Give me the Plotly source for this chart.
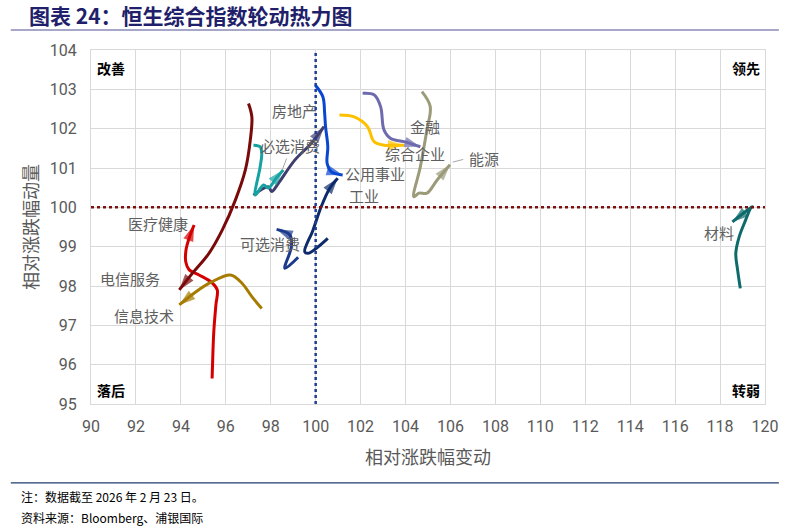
import plotly.graph_objects as go

# ---------------- data ----------------
utilities_x = [99.98, 100.32, 100.40, 100.44, 100.54, 100.51, 100.69, 101.20]
utilities_y = [103.11, 102.81, 102.39, 102.05, 101.54, 101.12, 100.91, 100.82]

industrials_x = [100.54, 100.03, 99.66, 99.51, 99.88, 100.25, 100.62, 100.98]
industrials_y = [99.21, 98.96, 98.83, 98.87, 99.42, 100.02, 100.48, 100.74]

consdisc_x = [99.22, 98.63, 98.92, 98.85, 98.26]
consdisc_y = [98.73, 98.45, 99.00, 99.30, 99.44]

property_x = [97.23, 97.90, 98.04, 98.34, 99.07, 99.81, 100.37]
property_y = [100.31, 100.52, 100.40, 100.61, 101.20, 101.63, 102.05]

staples_x = [97.23, 97.53, 97.60, 97.53, 97.31, 97.68, 97.90, 98.25, 98.56]
staples_y = [101.58, 101.54, 101.37, 101.03, 100.31, 100.57, 100.49, 100.75, 100.95]

finance_x = [102.09, 102.60, 102.89, 103.04, 103.34, 103.93, 104.66]
finance_y = [102.90, 102.86, 102.56, 101.97, 101.75, 101.67, 101.54]

conglom_x = [101.06, 101.72, 102.31, 102.60, 103.04, 103.49, 103.93]
conglom_y = [102.35, 102.30, 102.05, 101.67, 101.58, 101.58, 101.58]

energy_x = [104.73, 105.10, 104.95, 104.66, 104.37, 104.60, 104.95, 105.40, 105.98]
energy_y = [102.94, 102.56, 101.97, 101.03, 100.27, 100.36, 100.36, 100.69, 101.08]

materials_x = [118.90, 118.78, 118.70, 118.85, 119.14, 119.36, 119.43, 118.55]
materials_y = [97.94, 98.41, 98.83, 99.25, 99.68, 99.98, 100.02, 99.63]

health_x = [95.39, 95.43, 95.47, 95.56, 95.62, 95.39, 94.81, 94.37, 94.22, 94.23, 94.37, 94.59]
health_y = [95.65, 96.37, 96.88, 97.52, 97.90, 98.08, 98.28, 98.41, 98.61, 98.92, 99.22, 99.55]

telecom_x = [97.01, 97.16, 97.09, 96.87, 96.43, 95.84, 95.25, 94.51, 93.93]
telecom_y = [102.64, 102.30, 101.71, 100.95, 100.19, 99.42, 98.83, 98.32, 97.90]

infotech_x = [97.60, 97.16, 96.72, 96.21, 95.39, 94.66, 93.93]
infotech_y = [97.43, 97.73, 98.07, 98.28, 98.11, 97.85, 97.52]

sector_names = ["公用事业", "工业", "可选消费", "房地产", "必选消费", "金融",
                "综合企业", "能源", "材料", "医疗健康", "电信服务", "信息技术"]

x_ticks = list(range(90, 121, 2))
y_ticks = list(range(95, 105, 1))
ref_x = 100
ref_y = 100

# ---------------- styles ----------------
series = [
    (utilities_x, utilities_y, "#0A47D1"),
    (industrials_x, industrials_y, "#0D2B6B"),
    (consdisc_x, consdisc_y, "#1B3A8C"),
    (property_x, property_y, "#403E6E"),
    (staples_x, staples_y, "#17A2A2"),
    (finance_x, finance_y, "#6D6BAE"),
    (conglom_x, conglom_y, "#FFC000"),
    (energy_x, energy_y, "#9B9B7A"),
    (materials_x, materials_y, "#0F6B6B"),
    (health_x, health_y, "#D40000"),
    (telecom_x, telecom_y, "#7A0A0A"),
    (infotech_x, infotech_y, "#A67C00"),
]

# label positions (data coordinates)
label_pos = {
    "房地产": (99.04, 102.45),
    "必选消费": (98.87, 101.56),
    "公用事业": (102.66, 100.85),
    "工业": (102.13, 100.30),
    "可选消费": (97.98, 99.09),
    "金融": (104.87, 102.06),
    "综合企业": (104.42, 101.36),
    "能源": (107.51, 101.25),
    "材料": (117.97, 99.37),
    "医疗健康": (92.96, 99.58),
    "电信服务": (91.72, 98.20),
    "信息技术": (92.38, 97.26),
}

CJK = "Noto Sans CJK SC"
fig = go.Figure()

for (xs, ys, col), name in zip(series, sector_names):
    fig.add_trace(go.Scatter(
        x=xs, y=ys, mode="lines", name=name,
        line=dict(color=col, width=3, shape="spline", smoothing=1),
        hoverinfo="skip", showlegend=False))
    fig.add_trace(go.Scatter(
        x=xs[-2:], y=ys[-2:], mode="markers",
        marker=dict(symbol="arrow", size=[0, 17], angleref="previous",
                    color=col, line=dict(width=0)),
        hoverinfo="skip", showlegend=False))

annotations = []
for name in sector_names:
    lx, ly = label_pos[name]
    annotations.append(dict(x=lx, y=ly, xref="x", yref="y", text=name,
                            showarrow=False,
                            font=dict(family=CJK, size=15, color="#606060")))

# leader lines
annotations.append(dict(x=98.51, y=100.95, xref="x", yref="y", text="",
                        showarrow=True, arrowhead=0, arrowwidth=1,
                        arrowcolor="#A6A6A6", ax=5, ay=-13))
annotations.append(dict(x=106.1, y=101.15, xref="x", yref="y", text="",
                        showarrow=True, arrowhead=0, arrowwidth=1,
                        arrowcolor="#A6A6A6", ax=12, ay=-3))

# corner labels
corner_font = dict(family=CJK, size=14, color="#000000")
annotations += [
    dict(x=0, y=1, xref="paper", yref="paper", text="<b>改善</b>", showarrow=False,
         xanchor="left", yanchor="top", xshift=4, yshift=-6, font=corner_font),
    dict(x=1, y=1, xref="paper", yref="paper", text="<b>领先</b>", showarrow=False,
         xanchor="right", yanchor="top", xshift=-3, yshift=-6, font=corner_font),
    dict(x=0, y=0, xref="paper", yref="paper", text="<b>落后</b>", showarrow=False,
         xanchor="left", yanchor="bottom", xshift=4, yshift=2, font=corner_font),
    dict(x=1, y=0, xref="paper", yref="paper", text="<b>转弱</b>", showarrow=False,
         xanchor="right", yanchor="bottom", xshift=-3, yshift=2, font=corner_font),
]

# title and footer notes
annotations += [
    dict(x=-0.0956, y=1.0989, xref="paper", yref="paper",
         text="<b>图表 24：恒生综合指数轮动热力图</b>", showarrow=False,
         xanchor="left", yanchor="middle",
         font=dict(family=CJK, size=21, color="#1F1F6B")),
    dict(x=-0.107, y=-0.260, xref="paper", yref="paper",
         text="注：数据截至 2026 年 2 月 23 日。", showarrow=False,
         xanchor="left", yanchor="middle",
         font=dict(family=CJK, size=12, color="#000000")),
    dict(x=-0.107, y=-0.322, xref="paper", yref="paper",
         text="资料来源：Bloomberg、浦银国际", showarrow=False,
         xanchor="left", yanchor="middle",
         font=dict(family=CJK, size=12, color="#000000")),
]

shapes = [
    dict(type="line", xref="x", yref="paper", x0=ref_x, x1=ref_x, y0=0, y1=1,
         line=dict(color="#1F3D99", width=2.5, dash="dot")),
    dict(type="line", xref="paper", yref="y", x0=0, x1=1, y0=ref_y, y1=ref_y,
         line=dict(color="#7F1010", width=2.5, dash="dot")),
    dict(type="line", xref="paper", yref="paper", x0=-0.119, x1=1.0206,
         y0=1.0565, y1=1.0565, line=dict(color="#8A8AB8", width=1.5)),
    dict(type="line", xref="paper", yref="paper", x0=-0.119, x1=1.0206,
         y0=-0.223, y1=-0.223, line=dict(color="#1F3A6F", width=1.2)),
]

fig.update_layout(
    width=790, height=531,
    margin=dict(l=91, r=19, t=50, b=127),
    paper_bgcolor="white", plot_bgcolor="white",
    annotations=annotations,
    shapes=shapes,
    xaxis=dict(range=[90, 120], tickvals=x_ticks, showgrid=True,
               gridcolor="#D9D9D9", gridwidth=1, zeroline=False,
               showline=True, linecolor="#D9D9D9", mirror=True,
               ticks="outside", ticklen=8, tickcolor="rgba(0,0,0,0)",
               tickfont=dict(family="Liberation Sans Narrow, Roboto", size=16, color="#595959"),
               title=dict(text="相对涨跌幅变动", standoff=16,
                          font=dict(family=CJK, size=18, color="#595959"))),
    yaxis=dict(range=[95, 104], tickvals=y_ticks, showgrid=True,
               gridcolor="#D9D9D9", gridwidth=1, zeroline=False,
               showline=True, linecolor="#D9D9D9", mirror=True,
               ticks="outside", ticklen=10, tickcolor="rgba(0,0,0,0)",
               tickfont=dict(family="Liberation Sans Narrow, Roboto", size=16, color="#595959"),
               title=dict(text="相对涨跌幅动量", standoff=6,
                          font=dict(family=CJK, size=18, color="#595959"))),
)

fig.write_html("out.html", config={"displayModeBar": False},
               post_script="document.body.style.margin='0';")
